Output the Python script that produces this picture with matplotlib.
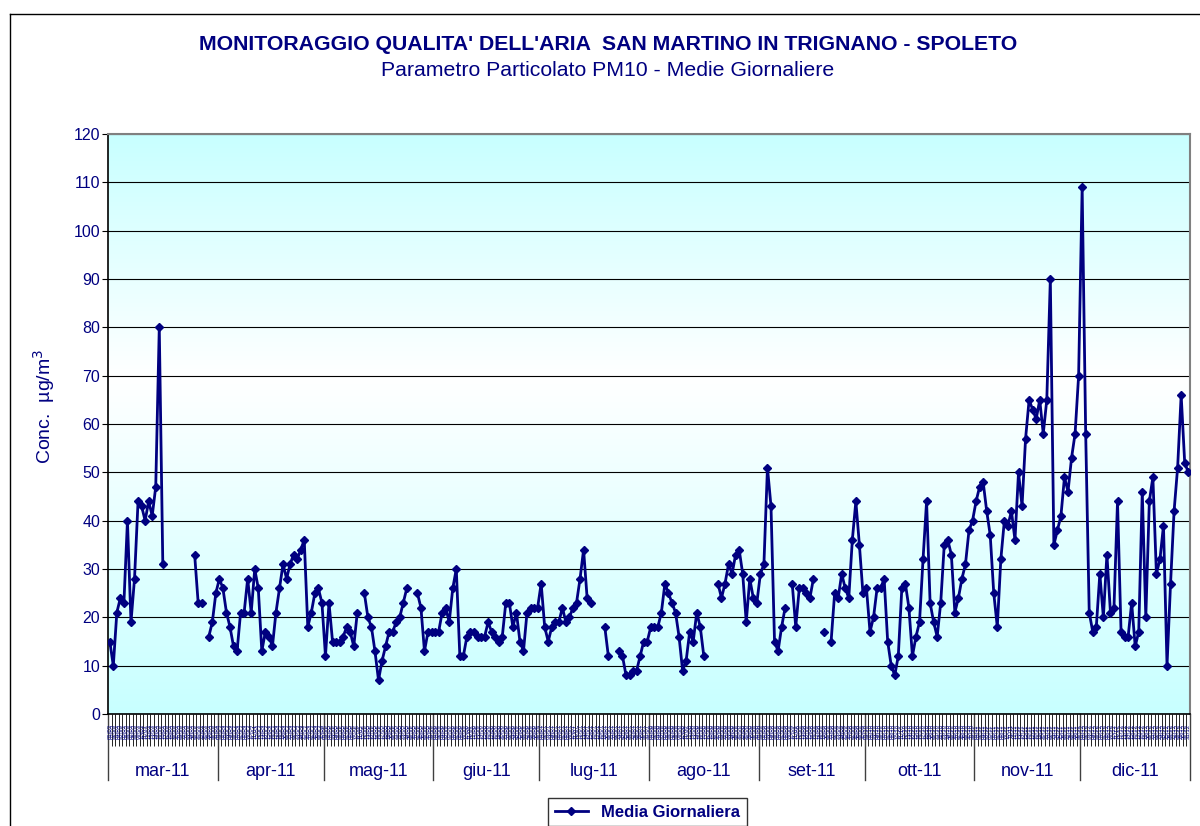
import numpy as np
import matplotlib.pyplot as plt
import matplotlib.transforms as mtransforms
from matplotlib.colors import LinearSegmentedColormap
from matplotlib.lines import Line2D

plt.rcParams['font.family'] = ['Liberation Sans', 'DejaVu Sans']

# medie giornaliere PM10 (None = dato mancante)
mesi = ['mar-11', 'apr-11', 'mag-11', 'giu-11', 'lug-11',
        'ago-11', 'set-11', 'ott-11', 'nov-11', 'dic-11']
num_mese = [3, 4, 5, 6, 7, 8, 9, 10, 11, 12]
giorni_mese = [31, 30, 31, 30, 31, 31, 30, 31, 30, 31]

mar = [15, 10, 21, 24, 23, 40, 19, 28, 44, 43, 40, 44, 41, 47, 80, 31,
       None, None, None, None, None, None, None, None,
       33, 23, 23, None, 16, 19, 25]
apr = [28, 26, 21, 18, 14, 13, 21, 21, 28, 21, 30, 26, 13, 17, 16, 14,
       21, 26, 31, 28, 31, 33, 32, 34, 36, 18, 21, 25, 26, 23]
mag = [12, 23, 15, 15, 15, 16, 18, 17, 14, 21, None, 25, 20, 18, 13, 7,
       11, 14, 17, 17, 19, 20, 23, 26, None, None, 25, 22, 13, 17, 17]
giu = [17, 17, 21, 22, 19, 26, 30, 12, 12, 16, 17, 17, 16, 16, 16, 19,
       17, 16, 15, 16, 23, 23, 18, 21, 15, 13, 21, 22, 22, 22]
lug = [27, 18, 15, 18, 19, 19, 22, 19, 20, 22, 23, 28, 34, 24, 23,
       None, None, None, 18, 12, None, None, 13, 12, 8, 8, 9, 9, 12, 15, 15]
ago = [18, 18, 18, 21, 27, 25, 23, 21, 16, 9, 11, 17, 15, 21, 18, 12,
       None, None, None, 27, 24, 27, 31, 29, 33, 34, 29, 19, 28, 24, 23]
set_ = [29, 31, 51, 43, 15, 13, 18, 22, None, 27, 18, 26, 26, 25, 24, 28,
        None, None, 17, None, 15, 25, 24, 29, 26, 24, 36, 44, 35, 25]
ott = [26, 17, 20, 26, 26, 28, 15, 10, 8, 12, 26, 27, 22, 12, 16, 19,
       32, 44, 23, 19, 16, 23, 35, 36, 33, 21, 24, 28, 31, 38, 40]
nov = [44, 47, 48, 42, 37, 25, 18, 32, 40, 39, 42, 36, 50, 43, 57, 65,
       63, 61, 65, 58, 65, 90, 35, 38, 41, 49, 46, 53, 58, 70]
dic = [109, 58, 21, 17, 18, 29, 20, 33, 21, 22, 44, 17, 16, 16, 23, 14,
       17, 46, 20, 44, 49, 29, 32, 39, 10, 27, 42, 51, 66, 52, 50]

tutti = mar + apr + mag + giu + lug + ago + set_ + ott + nov + dic
valori = np.array([np.nan if v is None else v for v in tutti], dtype=float)
n = len(valori)
x = np.arange(n)

navy = '#000080'

fig = plt.figure(figsize=(12, 8.26), dpi=100)
ax = fig.add_axes([108 / 1200, 1 - 714 / 826, (1190 - 108) / 1200, (714 - 134) / 826])

# sfondo sfumato
cmap = LinearSegmentedColormap.from_list(
    'sfondo', [(0, '#c8ffff'), (0.58, '#ffffff'), (1, '#c8ffff')])
grad = np.linspace(0, 1, 256).reshape(-1, 1)
ax.imshow(grad, extent=[-0.5, n - 0.5, 0, 120], origin='lower',
          aspect='auto', cmap=cmap, zorder=-1)

ax.plot(x, valori, color=navy, lw=2, marker='D', ms=4.3,
        label='Media Giornaliera', zorder=3)

ax.set_xlim(-0.5, n - 0.5)
ax.set_ylim(0, 120)
ax.set_yticks(np.arange(0, 121, 10))
ax.yaxis.grid(True, color='black', lw=0.8)
ax.set_axisbelow(True)
ax.tick_params(axis='y', labelsize=11.5, labelcolor=navy, length=4,
               width=0.8, pad=1.5)

ax.set_xticks(np.arange(-0.5, n, 1))
ax.tick_params(axis='x', length=23, width=0.6, color='black',
               labelbottom=False)

for s in ['top', 'right']:
    ax.spines[s].set_color('#808080')
    ax.spines[s].set_linewidth(1.5)
ax.spines['left'].set_linewidth(1.2)
ax.spines['bottom'].set_linewidth(1.2)

ax.set_ylabel('Conc.  µg/m$^3$', fontsize=14, color=navy)
ax.yaxis.set_label_coords(-0.047, 0.53)

# etichette giornaliere e mesi
trans = mtransforms.blended_transform_factory(ax.transData, ax.transAxes)
pos = 0
for nome, m, g in zip(mesi, num_mese, giorni_mese):
    for d in range(1, g + 1):
        ax.text(pos + d - 1, -0.03, f'{d:02d}/{m:02d}', transform=trans,
                fontsize=4.3, color=navy, rotation=90,
                ha='center', va='center', clip_on=False)
    ax.plot([pos - 0.5, pos - 0.5], [0, -0.114], transform=trans,
            color='#404040', lw=1, clip_on=False)
    ax.text(pos + g / 2 - 0.5, -0.1, nome, transform=trans, fontsize=13,
            color=navy, ha='center', va='center')
    pos += g
ax.plot([pos - 0.5, pos - 0.5], [0, -0.114], transform=trans,
        color='#404040', lw=1, clip_on=False)

fig.text(608 / 1200, 1 - 44 / 826,
         "MONITORAGGIO QUALITA' DELL'ARIA  SAN MARTINO IN TRIGNANO - SPOLETO",
         ha='center', va='center', fontsize=15.3, weight='bold', color=navy)
fig.text(608 / 1200, 1 - 71 / 826,
         'Parametro Particolato PM10 - Medie Giornaliere',
         ha='center', va='center', fontsize=15.3, color=navy)

leg = fig.legend(loc='upper center', bbox_to_anchor=(647.5 / 1200, 1 - 798 / 826),
                 fancybox=False, edgecolor='black', labelcolor=navy,
                 prop={'weight': 'bold', 'size': 12}, handlelength=2.0,
                 borderpad=0.4, borderaxespad=0)
leg.get_frame().set_linewidth(1)

# bordo del grafico
fig.add_artist(Line2D([10 / 1200, 10 / 1200], [0, 1 - 14 / 826],
                      transform=fig.transFigure, color='black', lw=1))
fig.add_artist(Line2D([10 / 1200, 1], [1 - 14 / 826, 1 - 14 / 826],
                      transform=fig.transFigure, color='black', lw=1))

fig.savefig('out.png', dpi=100)
